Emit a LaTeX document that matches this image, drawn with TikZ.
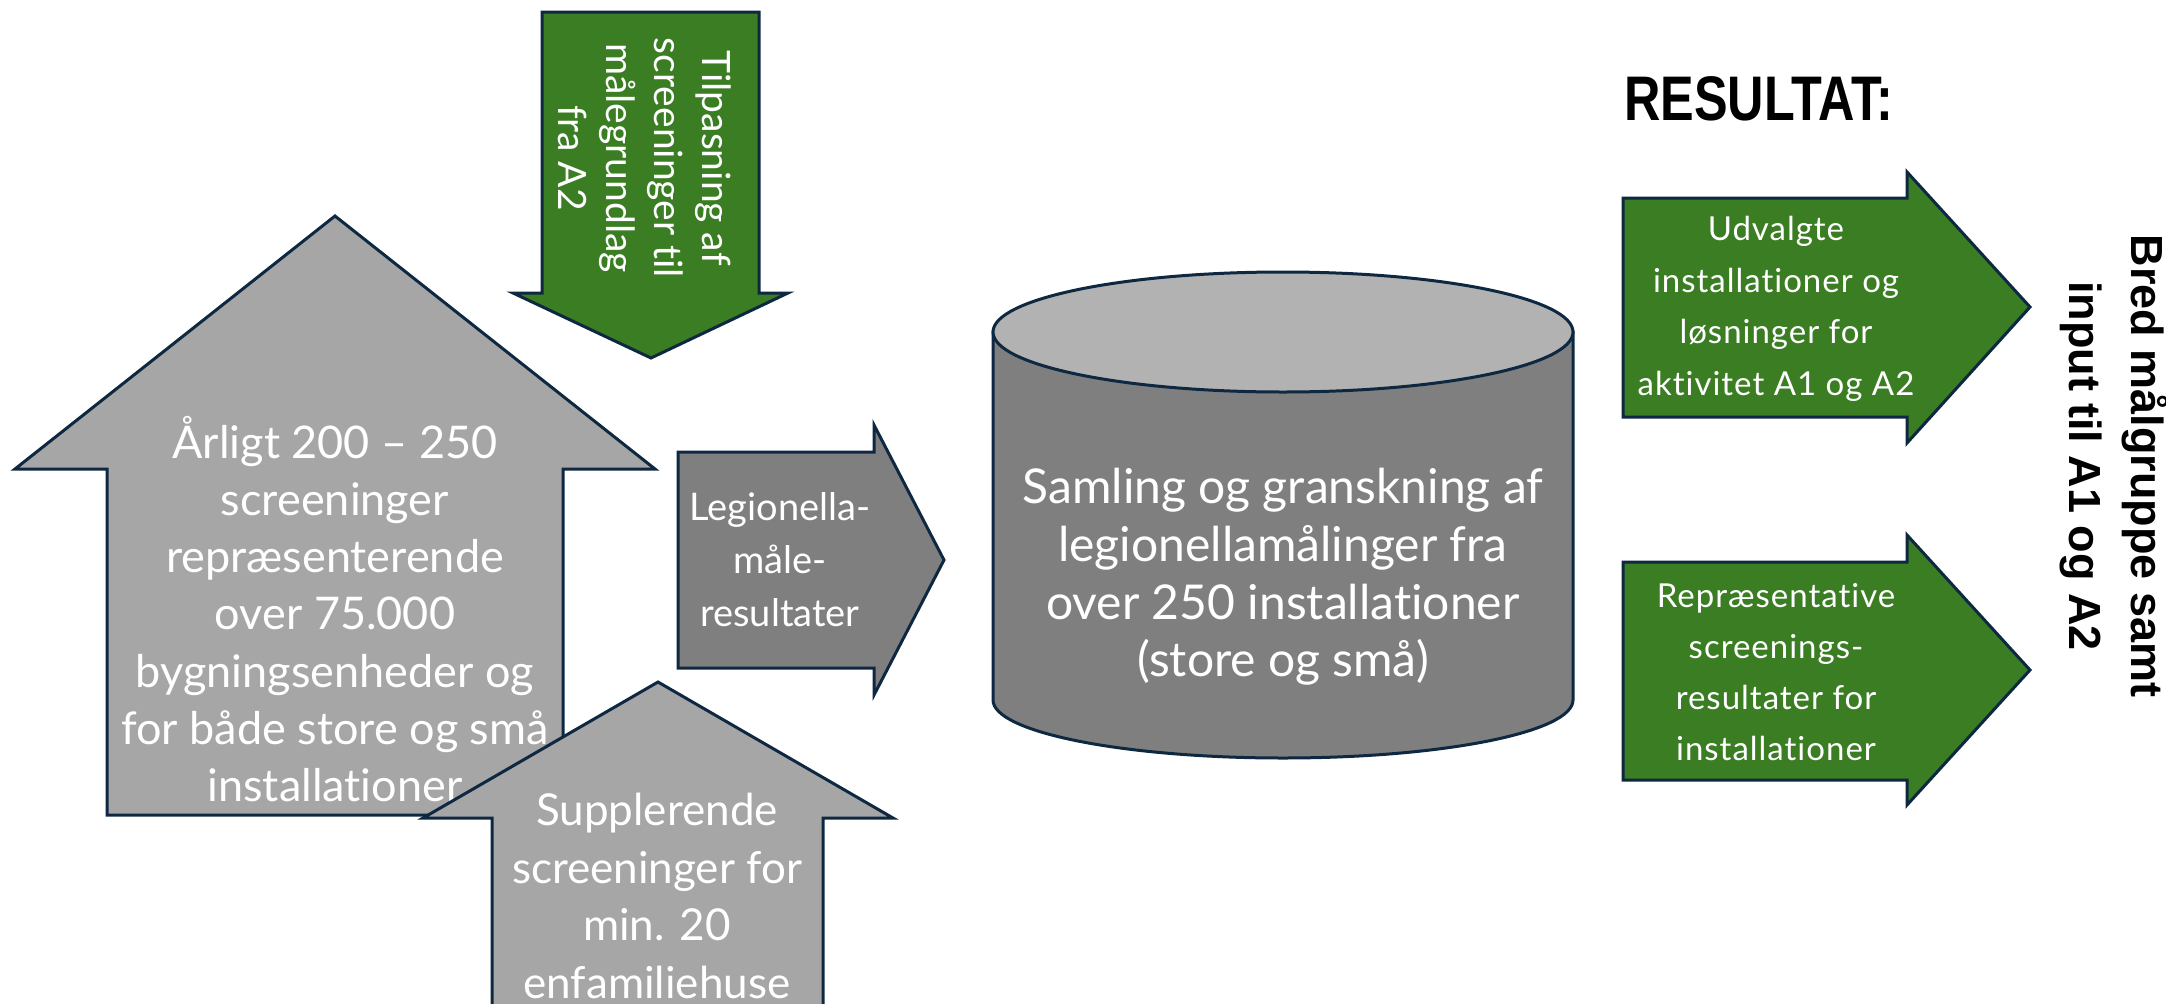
\documentclass[tikz,border=0pt]{standalone}
\usepackage{fontspec}
\setmainfont{Lato}[Ligatures={NoCommon}]
\newfontfamily\grnfont{Lato}[Ligatures={NoCommon}, LetterSpace=3]
\newfontfamily\resfont[FakeStretch=0.8]{Liberation Sans}
\newfontfamily\vfont{Liberation Sans}
\definecolor{navy}{HTML}{0E2841}
\definecolor{lgray}{HTML}{A6A6A6}
\definecolor{mgray}{HTML}{7F7F7F}
\definecolor{tgray}{HTML}{B2B2B2}
\definecolor{grn}{HTML}{3A7D22}
\tikzset{
  shp/.style={draw=navy, line width=3pt, line join=miter},
  lbl/.style={text=white, align=center, inner sep=0pt},
}
\begin{document}
\begin{tikzpicture}[x=1pt,y=-1pt]
\path[use as bounding box] (0,0) rectangle (2166,1004);
\clip (0,0) rectangle (2166,1004);
% big house
\draw[shp, fill=lgray] (335,216) -- (655,469) -- (563,469) -- (563,815) -- (107,815) -- (107,469) -- (15,469) -- cycle;
\node[lbl, font=\fontsize{45}{57.3}\selectfont] (bighouse) at (335,609) {Årligt 200 – 250\\screeninger\\repræsenterende\\over 75.000\\bygningsenheder og\\for både store og små\\installationer};
% green down arrow
\draw[shp, fill=grn] (542,12) -- (759,12) -- (759,293) -- (788,293) -- (651,358) -- (513,293) -- (542,293) -- cycle;
\node[lbl, rotate=-90, font=\fontsize{39}{48}\selectfont] (tilpas) at (645,158) {Tilpasning af\\screeninger til\\målegrundlag\\fra A2};
% legionella arrow
\draw[shp, fill=mgray] (678,452) -- (874,452) -- (874,425) -- (944,560) -- (874,695) -- (874,668) -- (678,668) -- cycle;
\node[lbl, font=\fontsize{38}{53}\selectfont] (legio) at (780,560) {Legionella-\\måle-\\resultater};
% cylinder
\draw[shp, fill=mgray] (993,332) -- (993,700) arc[start angle=180, end angle=0, x radius=290, y radius=58] -- (1573,332) -- cycle;
\draw[shp, fill=tgray] (1283,332) ellipse [x radius=290, y radius=60];
\node[lbl, font=\fontsize{48}{57.7}\selectfont] (samling) at (1283,577) {Samling og granskning af\\legionellamålinger fra\\over 250 installationer\\(store og små)};
% small house
\draw[shp, fill=lgray] (658,682) -- (893,818) -- (823,818) -- (823,1040) -- (492,1040) -- (492,818) -- (423,818) -- cycle;
\node[lbl, font=\fontsize{44}{57.5}\selectfont] (supp) at (657,896) {Supplerende\\screeninger for\\min. 20\\enfamiliehuse};
% green result arrows
\draw[shp, fill=grn] (1623,198) -- (1907,198) -- (1907,172) -- (2030,307) -- (1907,443) -- (1907,417) -- (1623,417) -- cycle;
\node[lbl, font=\grnfont\fontsize{33}{51.7}\selectfont] (udv) at (1776,309) {Udvalgte\\installationer og\\løsninger for\\aktivitet A1 og A2};
\draw[shp, fill=grn] (1623,562) -- (1907,562) -- (1907,535) -- (2030,670) -- (1907,805) -- (1907,780) -- (1623,780) -- cycle;
\node[lbl, font=\grnfont\fontsize{33}{51}\selectfont] (repr) at (1776,672) {Repræsentative\\screenings-\\resultater for\\installationer};
% headings
\node[anchor=base west, inner sep=0pt, font=\resfont\bfseries\fontsize{63}{70}\selectfont] (resultat) at (1624,120) {RESULTAT:};
\node[rotate=-90, align=center, inner sep=0pt, font=\vfont\bfseries\fontsize{45}{62}\selectfont] (bred) at (2114,466) {Bred målgruppe samt\\input til A1 og A2};
\end{tikzpicture}
\end{document}
